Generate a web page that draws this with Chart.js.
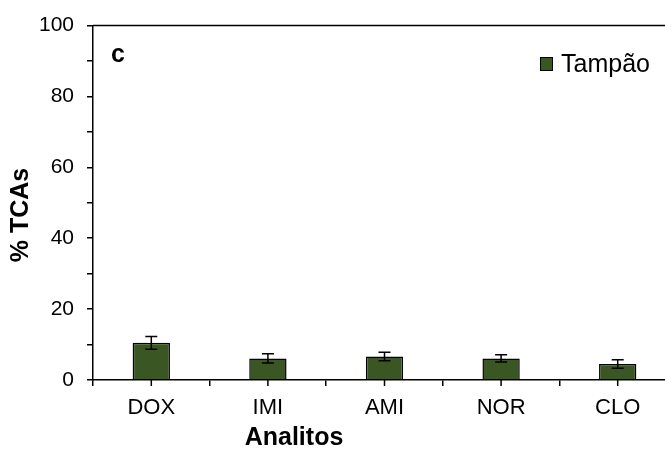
<!DOCTYPE html>
<html>
<head>
<meta charset="utf-8">
<script src="https://cdn.jsdelivr.net/npm/chart.js@4/dist/chart.umd.min.js"></script>
<style>
  html, body { margin: 0; padding: 0; background: #fff; }
  #wrap { width: 665px; height: 452px; overflow: hidden; position: relative; }
</style>
</head>
<body>
<div id="wrap"><canvas id="tca-chart" width="676" height="452"></canvas></div>
<script>
// data (panel c)
const analitos = ['DOX', 'IMI', 'AMI', 'NOR', 'CLO'];
const tampao = [10.5, 6.1, 6.6, 6.1, 4.5];
const tampaoErr = [1.8, 1.3, 1.2, 1.0, 1.2];
const yTicks = [0, 20, 40, 60, 80, 100];

const barColor = '#3a5723';
const fontName = '"Liberation Sans", Arial, sans-serif';

// extra bits excel draws: panel letter, top frame, half-category ticks, error bars, legend, titles
const extras = {
  id: 'extras',
  afterDatasetsDraw(chart) {
    const ctx = chart.ctx;
    const area = chart.chartArea;
    const x = chart.scales.x;
    const y = chart.scales.y;
    ctx.save();
    ctx.strokeStyle = '#000';
    ctx.lineWidth = 1.5;

    // top frame line
    ctx.beginPath();
    ctx.moveTo(area.left, area.top);
    ctx.lineTo(area.right, area.top);
    ctx.stroke();

    // ticks under each category centre
    analitos.forEach((a, i) => {
      const px = x.getPixelForValue(i);
      ctx.beginPath();
      ctx.moveTo(px, area.bottom);
      ctx.lineTo(px, area.bottom + 6);
      ctx.stroke();
    });

    // error bars
    const meta = chart.getDatasetMeta(0);
    meta.data.forEach((bar, i) => {
      const hi = y.getPixelForValue(tampao[i] + tampaoErr[i]);
      const lo = y.getPixelForValue(tampao[i] - tampaoErr[i]);
      ctx.beginPath();
      ctx.moveTo(bar.x, hi);
      ctx.lineTo(bar.x, lo);
      ctx.moveTo(bar.x - 6, hi);
      ctx.lineTo(bar.x + 6, hi);
      ctx.moveTo(bar.x - 6, lo);
      ctx.lineTo(bar.x + 6, lo);
      ctx.stroke();
    });

    ctx.fillStyle = '#000';
    ctx.textBaseline = 'alphabetic';
    // panel letter
    ctx.font = 'bold 25px ' + fontName;
    ctx.textAlign = 'left';
    ctx.fillText('c', 111, 62);

    // legend
    ctx.fillStyle = barColor;
    ctx.fillRect(541, 58, 11, 12);
    ctx.lineWidth = 1;
    ctx.strokeRect(540.5, 57.5, 12, 13);
    ctx.fillStyle = '#000';
    ctx.font = '25px ' + fontName;
    ctx.fillText(chart.data.datasets[0].label, 561, 72);

    // axis titles
    ctx.font = 'bold 25px ' + fontName;
    ctx.textAlign = 'center';
    ctx.textBaseline = 'middle';
    ctx.fillText('Analitos', 294, 438);
    ctx.translate(21, 215);
    ctx.rotate(-Math.PI / 2);
    ctx.fillText('% TCAs', 0, 0);
    ctx.restore();
  }
};

new Chart(document.getElementById('tca-chart'), {
  type: 'bar',
  data: {
    labels: analitos,
    datasets: [{
      label: 'Tampão',
      data: tampao,
      backgroundColor: barColor,
      borderColor: '#000',
      borderWidth: 1.5,
      categoryPercentage: 1,
      barPercentage: 0.32
    }]
  },
  options: {
    responsive: false,
    animation: false,
    layout: { padding: { top: 24, right: 0, bottom: 0, left: 0 } },
    plugins: {
      legend: { display: false },
      tooltip: { enabled: false }
    },
    scales: {
      x: {
        grid: { display: true, drawOnChartArea: false, offset: true, color: '#000', lineWidth: 1.5, tickLength: 6 },
        border: { color: '#000', width: 1.5 },
        ticks: { color: '#000', font: { family: fontName, size: 22 }, padding: 9, maxRotation: 0 },
        afterFit(scale) { scale.height = 72; }
      },
      y: {
        min: 0,
        max: 100,
        grid: { drawOnChartArea: false, color: '#000', lineWidth: 1.5, tickLength: 6 },
        border: { color: '#000', width: 1.5 },
        ticks: {
          stepSize: 10,
          color: '#000',
          padding: 13,
          font: { family: fontName, size: 21 },
          callback: v => yTicks.includes(v) ? v : ''
        },
        afterFit(scale) { scale.width = 93; }
      }
    }
  },
  plugins: [extras]
});
</script>
</body>
</html>
